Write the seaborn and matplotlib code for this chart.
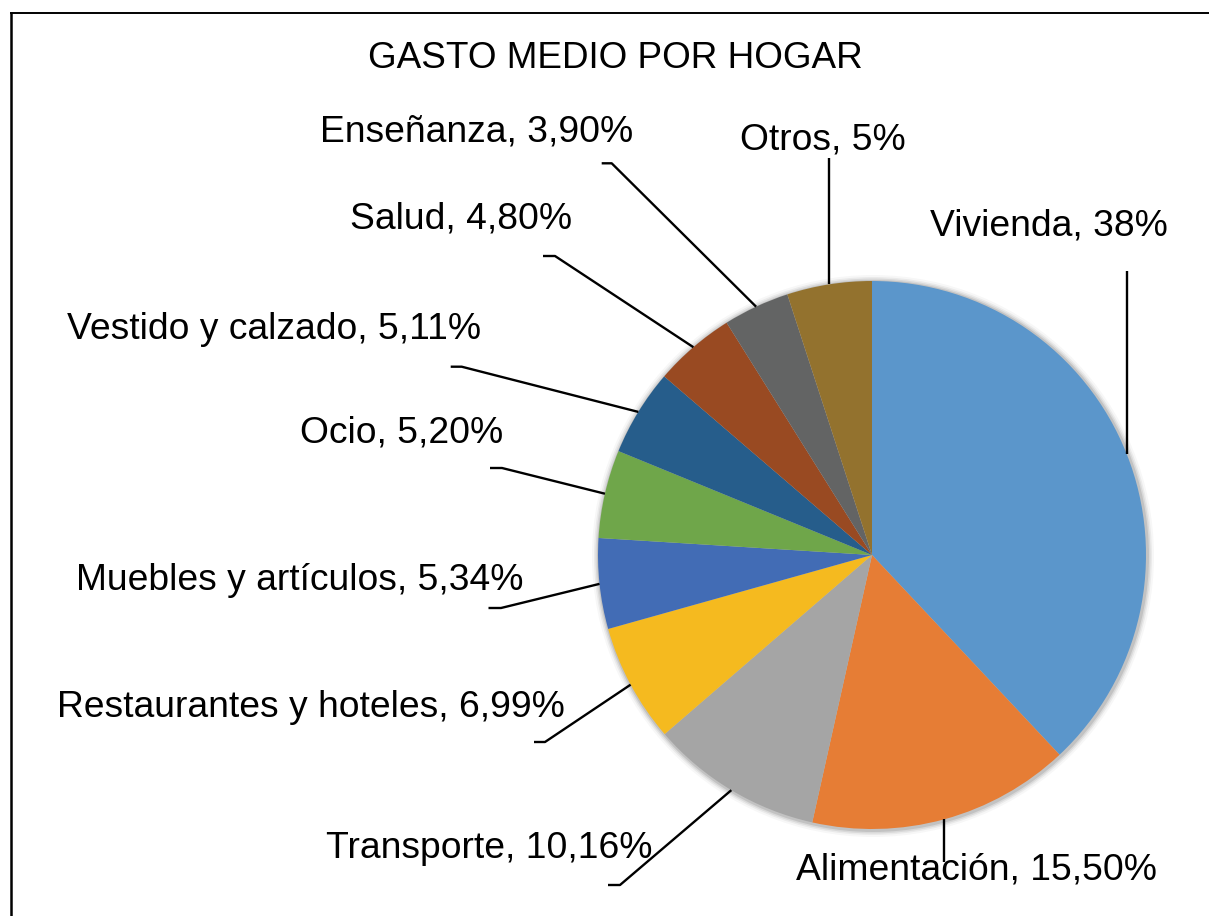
import numpy as np
import matplotlib
matplotlib.use("Agg")
import matplotlib.pyplot as plt
from matplotlib.patches import Circle
import seaborn as sns

# ---- data ----
categories = ["Vivienda", "Alimentación", "Transporte", "Restaurantes y hoteles",
              "Muebles y artículos", "Ocio", "Vestido y calzado", "Salud",
              "Enseñanza", "Otros"]
values = [38, 15.50, 10.16, 6.99, 5.34, 5.20, 5.11, 4.80, 3.90, 5]
title = "GASTO MEDIO POR HOGAR"

# ---- style ----
colors = ["#5B96CB", "#E67D35", "#A5A5A5", "#F5BA1F", "#426CB5",
          "#6FA64A", "#265D8B", "#994A22", "#636464", "#93722E"]

# label layout (pixel coords: centre x, baseline y) and leader elbows
label_pos = [(1048.5, 235), (976.5, 880), (489, 858.3), (311, 716.7),
             (300, 590), (401.5, 442.7), (274.5, 339.3), (461, 228.3),
             (477, 141.7), (822.5, 150)]
leader_pts = [[(None, 271)], [(None, 862)],
              [(608, 885), (620, 885)], [(534, 742), (545, 742)],
              [(488.5, 608), (501, 608)], [(490, 468), (502, 468)],
              [(450.7, 366.7), (461.7, 366.7)], [(543, 256), (555, 256)],
              [(601.7, 163.3), (611.7, 163.3)], [(None, 158)]]

W, H = 1209, 916
CX, CY, R = 872, 555, 274

sns.set_theme(style="white")
plt.rcParams["font.family"] = ["Liberation Sans", "DejaVu Sans"]

fig = plt.figure(figsize=(W / 100, H / 100), dpi=100)
ax = fig.add_axes([0, 0, 1, 1])

def py(y):
    return H - y

# soft shadow
for k, a in zip([7, 5, 3.5, 2], [0.03, 0.05, 0.07, 0.10]):
    ax.add_patch(Circle((CX + 1, py(CY) - 1), R + k, color="black", alpha=a, lw=0, zorder=0))

pal = sns.color_palette(colors)
wedges, _ = ax.pie(values, colors=pal, startangle=90, counterclock=False,
                   center=(CX, py(CY)), radius=R, frame=True,
                   wedgeprops=dict(linewidth=0))
for w in wedges:
    w.set_zorder(1)

def fmt(v):
    if float(v).is_integer():
        s = "%d" % v
    else:
        s = ("%.2f" % v).replace(".", ",")
    return s + "%"

for i, w in enumerate(wedges):
    ang = np.deg2rad((w.theta1 + w.theta2) / 2)
    ex = CX + R * np.cos(ang)
    ey = py(CY) + R * np.sin(ang)
    xs, ys = [], []
    for (x, y) in leader_pts[i]:
        xs.append(ex if x is None else x)
        ys.append(py(y))
    xs.append(ex)
    ys.append(ey)
    ax.plot(xs, ys, color="black", lw=1.7, solid_capstyle="butt", zorder=2)
    lx, ly = label_pos[i]
    ax.text(lx, py(ly), f"{categories[i]}, {fmt(values[i])}", ha="center",
            va="baseline", fontsize=26.8, color="black", zorder=3)

ax.text(615.5, py(67.7), title, ha="center", va="baseline", fontsize=26.6, color="black")

# chart frame (left & top edges visible)
ax.plot([10.8, 10.8], [py(11.7), py(H + 5)], color="black", lw=1.8, clip_on=False,
        solid_capstyle="butt")
ax.plot([9.9, W + 5], [py(12.7), py(12.7)], color="black", lw=1.4, clip_on=False,
        solid_capstyle="butt")

ax.set_xlim(0, W)
ax.set_ylim(0, H)
ax.set_aspect("equal")
ax.axis("off")

fig.savefig("out.png", dpi=100, facecolor="white")
